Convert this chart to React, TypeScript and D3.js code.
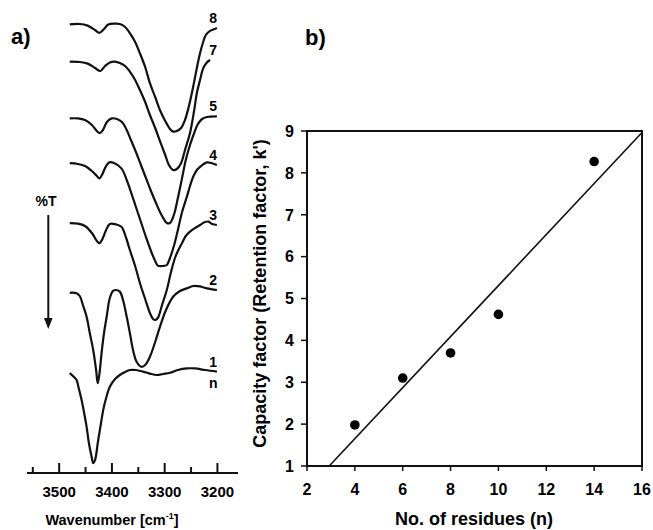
import * as d3 from "d3";

// ---- panel a) IR spectra: [wavenumber cm-1, %T offset (a.u.)]
const spectrum8: [number, number][] = [
  [3480, 113.9], [3461, 114], [3446, 113.6], [3432, 112.5], [3424, 111.8], [3415, 112.75],
  [3407, 113.9], [3394, 114.1], [3385, 114], [3375, 113.25], [3366, 111.7], [3356, 109.5],
  [3347, 106.7], [3337, 103.25], [3328, 99.2], [3318, 95.75], [3309, 92.5], [3299, 89.75],
  [3290, 87.75], [3284, 87.1], [3277, 87.25], [3269, 88], [3261.5, 90], [3254, 93.5],
  [3246, 98.3], [3239, 103], [3233, 106.7], [3227, 109.5], [3222, 111.25], [3214, 112.3],
  [3208, 112.6], [3201, 113],
];
const spectrum7: [number, number][] = [
  [3480, 104.6], [3461, 104.5], [3446, 104.1], [3432, 103], [3422, 102.25], [3413, 103.5],
  [3404, 104.4], [3394, 104.6], [3385, 104.25], [3375, 103.5], [3366, 102.1], [3356, 100],
  [3347, 97.5], [3337, 94.5], [3328, 91.25], [3318, 88], [3309, 84.75], [3299, 81.25],
  [3292, 78.75], [3284, 77.5], [3277, 77.75], [3269, 79.2], [3261.5, 82.5], [3252, 86.75],
  [3244, 92.5], [3239, 96.75], [3233, 100], [3227, 102.9], [3220, 104.4], [3214, 105],
];
const spectrum5: [number, number][] = [
  [3480, 90.4], [3464.5, 90.4], [3451, 90], [3438, 88.75], [3428.5, 87.25], [3423, 86.7],
  [3417, 87.5], [3409.5, 89.5], [3400, 90.4], [3390.5, 90.25], [3381, 89.5], [3372, 87.5],
  [3364, 85], [3354.5, 82], [3345, 78.75], [3335.5, 75.5], [3326, 72.25], [3316.5, 69.25],
  [3307, 66.5], [3296, 64.25], [3290, 64.25], [3282, 66.5], [3275, 70.5], [3267, 75.5],
  [3260, 80], [3252, 83.75], [3244, 86.75], [3237, 89], [3229, 90.25], [3220, 90.75],
  [3201, 90.9],
];
const spectrum4: [number, number][] = [
  [3480, 79.2], [3464.5, 79], [3451, 78.5], [3438, 77.25], [3428.5, 76], [3424, 75.4],
  [3419, 76.25], [3411, 78.5], [3405, 79.4], [3396, 79.25], [3382, 77.9], [3372, 75],
  [3364, 72], [3354.5, 68.25], [3345, 64.5], [3335.5, 60.75], [3326, 57.25], [3318, 54.75],
  [3313, 53.6], [3303, 53.5], [3296, 53.75], [3290, 55.5], [3282, 58.75], [3275, 62.5],
  [3267, 67], [3258, 70.8], [3252, 73.5], [3246, 75.8], [3239, 77.5], [3233, 78.3],
  [3220, 79.4], [3212, 79.25], [3201, 78.75],
];
const spectrum3: [number, number][] = [
  [3480, 64.2], [3464.5, 64.1], [3451, 63.5], [3438, 61.75], [3428.5, 59.75], [3424, 59.2],
  [3419, 60], [3411, 62.5], [3404, 64], [3392, 63.9], [3382, 63.3], [3373, 60.5],
  [3366, 57.5], [3356, 53.5], [3347, 49.25], [3337, 45.25], [3328, 41.75], [3322, 40.25],
  [3318, 40], [3313, 40.5], [3305, 43.75], [3296, 47.5], [3288, 52], [3280.5, 55.5],
  [3274, 57.5], [3267, 59.25], [3260, 61], [3252, 62.1], [3242.5, 63], [3233, 63.75],
  [3223.5, 64.5], [3217, 64.6], [3210, 64], [3201, 63.75],
];
const spectrum2: [number, number][] = [
  [3480, 46.8], [3467, 46.7], [3461, 46], [3455, 43.75], [3448, 40.8], [3442, 36.75],
  [3435.5, 32.5], [3430, 27.5], [3427, 24.2], [3424, 26.25], [3419, 32.5], [3415, 36.75],
  [3410, 40.8], [3404, 45.5], [3398, 47.25], [3394, 47.5], [3385, 47.1], [3379, 45],
  [3372, 40.8], [3366, 36.75], [3360, 32.5], [3353, 29.5], [3344, 28.3], [3337, 28.75],
  [3328, 30.8], [3318, 34.5], [3309, 38.3], [3297.5, 42.5], [3284, 45.8], [3271, 47.25],
  [3258, 47.9], [3246, 48.5], [3233, 48.4], [3220, 47.9], [3201, 47.5],
];
const spectrum1: [number, number][] = [
  [3480, 26.7], [3472, 25.75], [3467, 25], [3463, 23], [3457.5, 20], [3453, 17],
  [3448, 13.3], [3444, 9.5], [3438.5, 5.8], [3435.5, 4.2], [3432, 5], [3426, 10],
  [3421, 14], [3416.5, 17.5], [3411, 20.5], [3404, 23.3], [3394, 25.25], [3385, 26.25],
  [3375, 27], [3366, 27.5], [3354.5, 27.5], [3341, 27.1], [3328, 26.6], [3315, 26.25],
  [3303, 26.5], [3290, 26.8], [3275, 27.5], [3258, 27.9], [3242.5, 27.9], [3223.5, 27.5],
  [3201, 27.1],
];
const spectra = [spectrum8, spectrum7, spectrum5, spectrum4, spectrum3, spectrum2, spectrum1];
const spectrumLabels = ["8", "7", "5", "4", "3", "2", "1"];
const wnMajorTicks = [3500, 3400, 3300, 3200];
const wnMinorTicks = [3550, 3450, 3350, 3250];

// ---- panel b) capacity factor vs residues
const residues = [4, 6, 8, 10, 14];
const capacity = [1.98, 3.1, 3.7, 4.62, 8.27];
const nTicks = [2, 4, 6, 8, 10, 12, 14, 16];
const kTicks = [1, 2, 3, 4, 5, 6, 7, 8, 9];

const FONT = "'Liberation Sans', Arial, sans-serif";

export default function App() {
  const width = 653;
  const height = 530;

  // panel a scales
  const xA = d3.scaleLinear().domain([3561, 3161]).range([27, 238]);
  const yA = d3.scaleLinear().domain([0, 120]).range([480, 0]);
  const axisY = 473;
  const line = d3
    .line<[number, number]>()
    .x(d => xA(d[0]))
    .y(d => yA(d[1]))
    .curve(d3.curveCatmullRom.alpha(0.5));

  // panel b scales
  const xB = d3.scaleLinear().domain([2, 16]).range([307, 642]);
  const yB = d3.scaleLinear().domain([1, 9]).range([466, 131]);

  // least squares fit through the points
  const mx = d3.mean(residues)!;
  const my = d3.mean(capacity)!;
  let sxy = 0, sxx = 0;
  residues.forEach((x, i) => {
    sxy += (x - mx) * (capacity[i] - my);
    sxx += (x - mx) * (x - mx);
  });
  const slope = sxy / sxx;
  const icpt = my - slope * mx;
  const fx0 = Math.max(2, (1 - icpt) / slope);
  const fx1 = Math.min(16, (9 - icpt) / slope);

  return (
    <svg
      width={width}
      height={height}
      style={{ position: "absolute", left: 0, top: 0, background: "#fff" }}
      fontFamily={FONT}
    >
      <rect width={width} height={height} fill="#fff" />

      {/* ---------- panel a ---------- */}
      <text x={11} y={44} fontSize={22} fontWeight="bold">a)</text>

      {spectra.map((s, i) => (
        <path key={i} d={line(s) || ""} fill="none" stroke="#111" strokeWidth={2.2} strokeLinejoin="round" />
      ))}
      {spectra.map((s, i) => (
        <text
          key={"l" + i}
          x={xA(3208)}
          y={yA(s[s.length - 1][1]) - 5}
          fontSize={14}
          fontWeight="bold"
          textAnchor="middle"
        >
          {spectrumLabels[i]}
        </text>
      ))}
      <text x={xA(3208)} y={yA(spectrum1[spectrum1.length - 1][1]) + 16} fontSize={14} fontWeight="bold" textAnchor="middle">
        n
      </text>

      {/* %T arrow */}
      <text x={46} y={206} fontSize={14} fontWeight="bold" textAnchor="middle">%T</text>
      <line x1={48.3} y1={215} x2={48.3} y2={320} stroke="#111" strokeWidth={2} />
      <path d="M44,318 L52.6,318 L48.3,329 Z" fill="#111" />

      {/* wavenumber axis */}
      <line x1={27} x2={238} y1={axisY} y2={axisY} stroke="#111" strokeWidth={2} />
      {wnMajorTicks.map(t => (
        <line key={t} x1={xA(t)} x2={xA(t)} y1={axisY} y2={axisY - 10} stroke="#111" strokeWidth={2} />
      ))}
      {wnMinorTicks.map(t => (
        <line key={t} x1={xA(t)} x2={xA(t)} y1={axisY} y2={axisY - 6} stroke="#111" strokeWidth={2} />
      ))}
      {wnMajorTicks.map(t => (
        <text key={"t" + t} x={xA(t)} y={497} fontSize={15} fontWeight="bold" textAnchor="middle">
          {t}
        </text>
      ))}
      <text x={112} y={525} fontSize={14.5} fontWeight="bold" textAnchor="middle">
        Wavenumber [cm
        <tspan fontSize={9} dy={-6}>-1</tspan>
        <tspan dy={6}>]</tspan>
      </text>

      {/* ---------- panel b ---------- */}
      <text x={305} y={45} fontSize={22} fontWeight="bold">b)</text>

      <rect
        x={xB(2)}
        y={yB(9)}
        width={xB(16) - xB(2)}
        height={yB(1) - yB(9)}
        fill="none"
        stroke="#111"
        strokeWidth={2}
      />
      {kTicks.map(t => (
        <g key={"k" + t}>
          <line x1={xB(2) - 6} x2={xB(2)} y1={yB(t)} y2={yB(t)} stroke="#111" strokeWidth={1.5} />
          <text x={294} y={yB(t)} dy="0.36em" fontSize={16} fontWeight="bold" textAnchor="end">
            {t}
          </text>
        </g>
      ))}
      {nTicks.map(t => (
        <g key={"n" + t}>
          <line x1={xB(t)} x2={xB(t)} y1={yB(1)} y2={yB(1) + 5} stroke="#111" strokeWidth={1.5} />
          <text x={xB(t)} y={495} fontSize={16} fontWeight="bold" textAnchor="middle">
            {t}
          </text>
        </g>
      ))}

      <line
        x1={xB(fx0)}
        y1={yB(slope * fx0 + icpt)}
        x2={xB(fx1)}
        y2={yB(slope * fx1 + icpt)}
        stroke="#111"
        strokeWidth={1.6}
      />
      {residues.map((x, i) => (
        <circle key={"p" + i} cx={xB(x)} cy={yB(capacity[i])} r={4.8} fill="#000" />
      ))}

      <text x={474} y={525} fontSize={18} fontWeight="bold" textAnchor="middle">
        No. of residues (n)
      </text>
      <text
        transform={`translate(266,${293.5}) rotate(-90)`}
        fontSize={18}
        fontWeight="bold"
        textAnchor="middle"
      >
        Capacity factor (Retention factor, k')
      </text>
    </svg>
  );
}
